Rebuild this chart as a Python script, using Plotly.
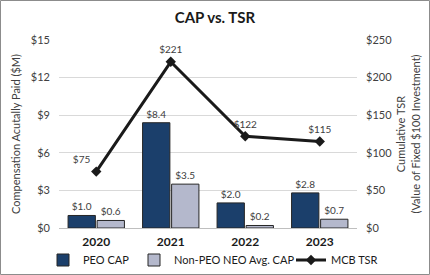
import plotly.graph_objects as go

years = ["2020", "2021", "2022", "2023"]
peo_cap = [1.0, 8.4, 2.0, 2.8]
neo_cap = [0.6, 3.5, 0.2, 0.7]
tsr = [75, 221, 122, 115]
left_ticks = [0, 3, 6, 9, 12, 15]
right_ticks = [0, 50, 100, 150, 200, 250]

FONT = "Lato"
W, H = 430, 275
ml, mr, mt, mb = 59, 73, 40, 47
pw, ph = W - ml - mr, H - mt - mb

fig = go.Figure()
fig.add_trace(go.Bar(
    x=years, y=peo_cap, name="PEO CAP", legend="legend",
    marker=dict(color="#1B3F6B", line=dict(color="#262626", width=1)),
    text=[f"${v:.1f}" for v in peo_cap], textposition="outside",
    textfont=dict(size=10, color="#404040", family=FONT), cliponaxis=False,
))
fig.add_trace(go.Bar(
    x=years, y=neo_cap, name="Non-PEO NEO Avg. CAP", legend="legend2",
    marker=dict(color="#B4B8CC", line=dict(color="#262626", width=1)),
    text=[f"${v:.1f}" for v in neo_cap], textposition="outside",
    textfont=dict(size=10, color="#404040", family=FONT), cliponaxis=False,
))
fig.add_trace(go.Scatter(
    x=years, y=tsr, name="MCB TSR", yaxis="y2", mode="lines+markers+text", legend="legend3",
    line=dict(color="#1a1a1a", width=3),
    marker=dict(symbol="diamond", size=8, color="#1a1a1a"),
    text=[f"${v}" for v in tsr],
    textposition=["top left", "top center", "top center", "top center"],
    textfont=dict(size=10, color="#404040", family=FONT), cliponaxis=False,
))

leg_y = (-(260 - (H - mb))) / ph
leg_common = dict(orientation="h", yanchor="middle", xanchor="left", y=leg_y,
                  font=dict(size=11, color="#1a1a1a", family=FONT), bgcolor="rgba(0,0,0,0)")

fig.update_layout(
    width=W, height=H,
    margin=dict(l=ml, r=mr, t=mt, b=mb, autoexpand=False),
    paper_bgcolor="white", plot_bgcolor="white",
    font=dict(family=FONT, color="#404040", size=11),
    title=dict(text="<b>CAP vs. TSR</b>", x=0.5, xanchor="center", y=1 - 18 / H, yanchor="middle",
               font=dict(size=15, color="#1a1a1a", family=FONT)),
    barmode="group", bargap=0.22, bargroupgap=0.06,
    xaxis=dict(type="category", showgrid=False, showline=True, linecolor="#bfbfbf", linewidth=1,
               tickvals=years, ticktext=[f"<b>{y}</b>" for y in years],
               ticks="", tickfont=dict(size=12, color="#1a1a1a", family=FONT), ticklabelstandoff=3),
    yaxis=dict(range=[0, 15], tickvals=left_ticks, ticktext=[f"${v}" for v in left_ticks],
               showgrid=True, gridcolor="#d9d9d9", zeroline=False, ticks="", ticklabelstandoff=8,
               tickfont=dict(size=11, color="#404040"),
               title=dict(text="Compensation Acutally Paid ($M)", font=dict(size=11, color="#404040"), standoff=8)),
    yaxis2=dict(range=[0, 250], tickvals=right_ticks, ticktext=[f"${v}" for v in right_ticks],
                overlaying="y", side="right", showgrid=False, zeroline=False, ticks="", ticklabelstandoff=8,
                tickfont=dict(size=11, color="#404040"),
                title=dict(text="Cumulative TSR<br>(Value of Fixed $100 Investment)",
                           font=dict(size=11, color="#404040"), standoff=6)),
    legend=dict(x=(43 - ml) / pw, **leg_common),
    legend2=dict(x=(134 - ml) / pw, **leg_common),
    legend3=dict(x=(291 - ml) / pw, **leg_common),
    showlegend=True,
)

# outer grey border
fig.add_shape(type="rect", xref="paper", yref="paper",
              x0=(0.5 - ml) / pw, x1=(W - 0.5 - ml) / pw,
              y0=-(mb - 0.5) / ph, y1=(ph + mt - 0.5) / ph,
              line=dict(color="#8c8c8c", width=1), layer="above")

fig.write_html("out.html")
